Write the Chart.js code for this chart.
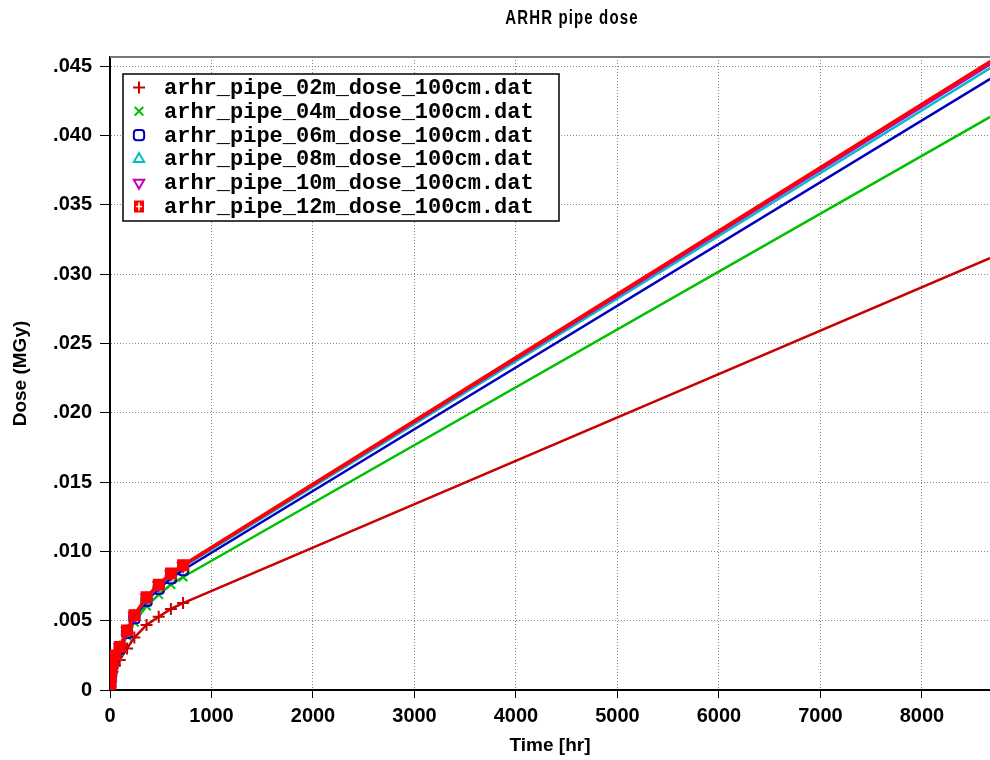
<!DOCTYPE html>
<html>
<head>
<meta charset="utf-8">
<script src="https://cdn.jsdelivr.net/npm/chart.js@4.4.1/dist/chart.umd.min.js"></script>
<style>
  html, body { margin: 0; padding: 0; background: #fff; }
  #wrap { width: 990px; height: 760px; }
</style>
</head>
<body>
<div id="wrap"><canvas id="doseChart" width="990" height="760"></canvas></div>
<script>
// time points [hr]
const hours = [0, 2, 6, 12, 24, 48, 96, 168, 240, 360, 480, 600, 720, 8760];

// dose [MGy] per pipe length
const pipe02m = [0, 0.00028, 0.00063, 0.00097, 0.00132, 0.00174, 0.00216, 0.00300, 0.00378, 0.00469, 0.00528, 0.00585, 0.00627, 0.03143];
const pipe04m = [0, 0.00036, 0.00081, 0.00127, 0.00172, 0.00226, 0.00281, 0.00389, 0.00489, 0.00606, 0.00688, 0.00760, 0.00815, 0.04170];
const pipe06m = [0, 0.00038, 0.00086, 0.00134, 0.00182, 0.00240, 0.00298, 0.00413, 0.00518, 0.00643, 0.00730, 0.00806, 0.00865, 0.04446];
const pipe08m = [0, 0.00039, 0.00089, 0.00138, 0.00187, 0.00246, 0.00305, 0.00423, 0.00531, 0.00659, 0.00748, 0.00827, 0.00887, 0.04525];
const pipe10m = [0, 0.00040, 0.00089, 0.00139, 0.00189, 0.00248, 0.00308, 0.00427, 0.00536, 0.00665, 0.00755, 0.00834, 0.00895, 0.04551];
const pipe12m = [0, 0.00040, 0.00090, 0.00140, 0.00190, 0.00250, 0.00310, 0.00430, 0.00540, 0.00670, 0.00760, 0.00840, 0.00900, 0.04572];

// axis ticks
const xTicks = [0, 1000, 2000, 3000, 4000, 5000, 6000, 7000, 8000];
const yTicks = [0, 0.005, 0.010, 0.015, 0.020, 0.025, 0.030, 0.035, 0.040, 0.045];

const seriesNames = [
  'arhr_pipe_02m_dose_100cm.dat',
  'arhr_pipe_04m_dose_100cm.dat',
  'arhr_pipe_06m_dose_100cm.dat',
  'arhr_pipe_08m_dose_100cm.dat',
  'arhr_pipe_10m_dose_100cm.dat',
  'arhr_pipe_12m_dose_100cm.dat'
];
const seriesValues = [pipe02m, pipe04m, pipe06m, pipe08m, pipe10m, pipe12m];

const colors = ['#c80000', '#00c000', '#0000c0', '#00c0c0', '#c000c0', '#ff0000'];
const markers = [
  { style: 'cross', rot: 0, r: 6, fill: false },
  { style: 'crossRot', rot: 0, r: 6, fill: false },
  { style: 'rectRounded', rot: 0, r: 6, fill: false },
  { style: 'triangle', rot: 0, r: 6, fill: false },
  { style: 'triangle', rot: 180, r: 6, fill: false },
  { style: 'rect', rot: 0, r: 7, fill: true }
];
const lineWidths = [2.5, 2.5, 2.5, 2.5, 2.5, 3.5];

const datasets = seriesValues.map(function (vals, i) {
  return {
    label: seriesNames[i],
    data: vals.map(function (v, k) { return { x: hours[k], y: v }; }),
    borderColor: colors[i],
    borderWidth: lineWidths[i],
    showLine: true,
    pointStyle: markers[i].style,
    pointRotation: markers[i].rot,
    pointRadius: markers[i].r,
    pointBorderWidth: 2,
    pointBorderColor: colors[i],
    pointBackgroundColor: markers[i].fill ? colors[i] : 'rgba(0,0,0,0)',
    tension: 0,
    order: seriesValues.length - i
  };
});

// title, top frame line and boxed legend
const decorations = {
  id: 'decorations',
  beforeDatasetsDraw(chart) {
    const a = chart.chartArea;
    const ctx = chart.ctx;
    ctx.save();
    ctx.strokeStyle = '#777';
    ctx.lineWidth = 2;
    ctx.beginPath();
    ctx.moveTo(a.left, a.top);
    ctx.lineTo(a.right, a.top);
    ctx.stroke();
    ctx.restore();
  },
  afterDraw(chart) {
    const a = chart.chartArea;
    const ctx = chart.ctx;
    ctx.save();
    ctx.fillStyle = '#000';
    ctx.textAlign = 'center';
    ctx.textBaseline = 'middle';
    ctx.save();
    ctx.translate(572, 18);
    ctx.scale(0.75, 1);
    ctx.font = 'bold 20px "Liberation Sans", Arial, sans-serif';
    ctx.letterSpacing = '1.5px';
    ctx.fillText('ARHR pipe dose', 0, 0);
    ctx.restore();

    const x0 = a.left + 13, y0 = a.top + 17, w = 436, h = 147;
    ctx.fillStyle = '#fff';
    ctx.fillRect(x0, y0, w, h);
    ctx.strokeStyle = '#000';
    ctx.lineWidth = 1.5;
    ctx.strokeRect(x0, y0, w, h);

    ctx.font = 'bold 22px "Liberation Mono", "DejaVu Sans Mono", monospace';
    ctx.textAlign = 'left';
    seriesNames.forEach(function (name, i) {
      const y = y0 + 13.5 + i * 23.8;
      const sx = x0 + 16;
      ctx.strokeStyle = colors[i];
      ctx.fillStyle = colors[i];
      ctx.lineWidth = 2;
      if (i === 5) {
        ctx.fillRect(sx - 5, y - 6, 10, 12);
        ctx.strokeStyle = '#fff';
        ctx.lineWidth = 1.5;
        ctx.beginPath();
        ctx.moveTo(sx, y - 4); ctx.lineTo(sx, y + 4);
        ctx.moveTo(sx - 3, y); ctx.lineTo(sx + 3, y);
        ctx.stroke();
      } else {
        ctx.fillStyle = 'rgba(0,0,0,0)';
        Chart.helpers.drawPoint(ctx, {
          pointStyle: markers[i].style,
          rotation: markers[i].rot,
          radius: 6,
          borderWidth: 2
        }, sx, y);
      }
      ctx.fillStyle = '#000';
      ctx.fillText(name, x0 + 41, y + 1);
    });
    ctx.restore();
  }
};

const axisFont = { family: '"Liberation Sans", Arial, sans-serif', weight: 'bold', size: 20 };
const titleFont = { family: '"Liberation Sans", Arial, sans-serif', weight: 'bold', size: 19 };

new Chart(document.getElementById('doseChart').getContext('2d'), {
  type: 'scatter',
  data: { datasets: datasets },
  options: {
    responsive: false,
    animation: false,
    layout: { autoPadding: false, padding: { top: 57, right: 0, bottom: 0, left: 0 } },
    scales: {
      x: {
        type: 'linear',
        min: 0,
        max: 8670,
        afterFit: function (scale) {
          scale.height = 70;
          scale.paddingLeft = 0;
          scale.paddingRight = 0;
        },
        afterBuildTicks: function (scale) {
          scale.ticks = xTicks.map(function (v) { return { value: v }; });
        },
        ticks: {
          autoSkip: false,
          maxRotation: 0,
          padding: 6,
          color: '#000',
          font: axisFont,
          callback: function (v) { return String(v); }
        },
        grid: { color: '#888', lineWidth: 1, tickLength: 8, tickColor: '#000' },
        border: { color: '#000', width: 2, dash: [1, 2] },
        title: {
          display: true,
          text: 'Time [hr]',
          color: '#000',
          font: titleFont,
          padding: { top: 0, bottom: 3 }
        }
      },
      y: {
        type: 'linear',
        min: 0,
        max: 0.04565,
        afterFit: function (scale) { scale.width = 110; },
        afterBuildTicks: function (scale) {
          scale.ticks = yTicks.map(function (v) { return { value: v }; });
        },
        ticks: {
          autoSkip: false,
          padding: 8,
          color: '#000',
          font: axisFont,
          callback: function (v) {
            return v === 0 ? '0' : v.toFixed(3).replace(/^0/, '');
          }
        },
        grid: { color: '#888', lineWidth: 1, tickLength: 10, tickColor: '#000' },
        border: { color: '#000', width: 2, dash: [1, 2] },
        title: {
          display: true,
          text: 'Dose (MGy)',
          color: '#000',
          font: titleFont,
          padding: { top: 9, bottom: 0 }
        }
      }
    },
    plugins: {
      legend: { display: false },
      title: { display: false },
      tooltip: { enabled: false }
    }
  },
  plugins: [decorations]
});
</script>
</body>
</html>
